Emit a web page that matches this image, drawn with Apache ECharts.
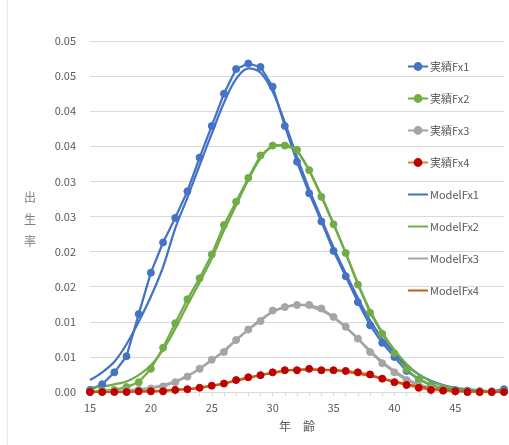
<!DOCTYPE html>
<html><head><meta charset="utf-8">
<script src="https://cdn.jsdelivr.net/npm/echarts@6/dist/echarts.min.js"></script>
<style>html,body{margin:0;padding:0;background:#fff}#c{width:509px;height:445px}</style>
</head><body><div id="c"></div>
<script>
const ages = [15,16,17,18,19,20,21,22,23,24,25,26,27,28,29,30,31,32,33,34,35,36,37,38,39,40,41,42,43,44,45,46,47,48,49];
const yTickLabels = ['0.00','0.01','0.01','0.02','0.02','0.03','0.03','0.04','0.04','0.05','0.05'];
const seriesNames = ['実績Fx1','実績Fx2','実績Fx3','実績Fx4','ModelFx1','ModelFx2','ModelFx3','ModelFx4'];
const fx1 = [0.0003,0.0011,0.0028,0.0051,0.0111,0.0170,0.0213,0.0248,0.0286,0.0334,0.0379,0.0425,0.0460,0.0468,0.0463,0.0435,0.0379,0.0328,0.0283,0.0243,0.0201,0.0165,0.0128,0.0095,0.0070,0.0050,0.0030,0.0018,0.0010,0.0005,0.0003,0.0002,0.0001,0.0001,0.0004];
const fx2 = [0.0001,0.0002,0.0003,0.0007,0.0014,0.0033,0.0063,0.0098,0.0132,0.0162,0.0196,0.0238,0.0271,0.0305,0.0337,0.0351,0.0351,0.0345,0.0316,0.0278,0.0239,0.0198,0.0153,0.0113,0.0083,0.0055,0.0032,0.0018,0.0010,0.0005,0.0002,0.0001,0.0001,0.0000,0.0001];
const fx3 = [0,0,0.0001,0.0002,0.0003,0.0005,0.0008,0.0014,0.0022,0.0033,0.0046,0.0057,0.0074,0.0089,0.0101,0.0116,0.0121,0.0124,0.0124,0.0119,0.0107,0.0093,0.0076,0.0057,0.0041,0.0028,0.0017,0.0009,0.0005,0.0002,0.0001,0,0,0,0];
const fx4 = [0,0,0,0,0.0001,0.0001,0.0001,0.0003,0.0004,0.0006,0.0009,0.0012,0.0017,0.0021,0.0024,0.0028,0.0031,0.0031,0.0033,0.0031,0.0031,0.0030,0.0028,0.0025,0.0019,0.0014,0.0010,0.0006,0.0003,0.0002,0.0001,0,0,0,0];
const m1 = [0.0017,0.0028,0.0043,0.0068,0.0100,0.0136,0.0178,0.0233,0.0277,0.0323,0.0368,0.0412,0.0446,0.0461,0.0455,0.0428,0.0384,0.0335,0.0289,0.0247,0.0206,0.0169,0.0134,0.0102,0.0076,0.0055,0.0038,0.0025,0.0016,0.0010,0.0006,0.0004,0.0002,0.0001,0.0001];
const m2 = [0.0006,0.0008,0.0011,0.0015,0.0024,0.0038,0.0060,0.0090,0.0124,0.0156,0.0190,0.0230,0.0266,0.0302,0.0333,0.0350,0.0352,0.0343,0.0316,0.0280,0.0240,0.0198,0.0155,0.0116,0.0085,0.0060,0.0040,0.0025,0.0015,0.0009,0.0005,0.0003,0.0002,0.0001,0.0001];
const m3 = [0,0.0001,0.0001,0.0002,0.0004,0.0006,0.0010,0.0015,0.0023,0.0033,0.0045,0.0059,0.0074,0.0089,0.0103,0.0114,0.0121,0.0124,0.0122,0.0116,0.0106,0.0092,0.0076,0.0059,0.0043,0.0030,0.0019,0.0011,0.0006,0.0003,0.0002,0.0001,0,0,0];
const m4 = [0,0,0,0,0.0001,0.0001,0.0002,0.0003,0.0004,0.0006,0.0009,0.0012,0.0016,0.0020,0.0024,0.0027,0.0030,0.0032,0.0032,0.0032,0.0031,0.0029,0.0026,0.0023,0.0019,0.0015,0.0011,0.0008,0.0005,0.0003,0.0002,0.0001,0.0001,0,0];

const font = "'Noto Sans CJK JP', 'Noto Sans', sans-serif";
const txt = '#595959';
function markerSeries(name, data, lineColor, markColor) {
  return { name, type: 'line', data, symbol: 'circle', symbolSize: 7, showSymbol: true,
    lineStyle: { color: lineColor, width: 2.25 }, itemStyle: { color: markColor, borderColor: markColor },
    emphasis: { disabled: true }, animation: false };
}
function modelSeries(name, data, color) {
  return { name, type: 'line', data, symbol: 'none', smooth: 0.35,
    lineStyle: { color, width: 2.25 }, itemStyle: { color },
    emphasis: { disabled: true }, animation: false };
}
const legendData = seriesNames.map((n, i) => i < 4 ? { name: n } : { name: n, itemStyle: { opacity: 0 } });
const chart = echarts.init(document.getElementById('c'), null, { renderer: 'canvas' });
chart.setOption({
  animation: false,
  backgroundColor: '#fff',
  textStyle: { fontFamily: font },
  grid: { left: 90, right: 5, top: 41, bottom: 53, containLabel: false },
  xAxis: {
    type: 'category', data: ages, boundaryGap: false,
    name: '年　齢', nameLocation: 'middle', nameGap: 28,
    nameTextStyle: { color: txt, fontSize: 12, fontFamily: font },
    axisLine: { lineStyle: { color: '#D9D9D9', width: 1 } },
    axisTick: { show: true, interval: 0, length: 4, lineStyle: { color: '#D9D9D9' } },
    axisLabel: { interval: 4, color: txt, fontSize: 11, margin: 10, fontFamily: font },
    splitLine: { show: false }
  },
  yAxis: {
    type: 'value', min: 0, max: 0.05, interval: 0.005,
    axisLine: { show: false }, axisTick: { show: false },
    axisLabel: { color: txt, fontSize: 11, margin: 14, fontFamily: font,
      formatter: v => yTickLabels[Math.round(v / 0.005)] },
    splitLine: { lineStyle: { color: '#D9D9D9', width: 1 } }
  },
  legend: {
    orient: 'vertical', left: 402, top: 56, itemWidth: 20, itemHeight: 11, itemGap: 21,
    data: legendData,
    textStyle: { color: txt, fontSize: 11, fontFamily: font, padding: [0, 0, 0, -3] }
  },
  graphic: [
    { type: 'text', left: 24, top: 186, style: { text: '出\n生\n率', fill: '#7F7F7F', font: '12px ' + font, lineHeight: 22 } },
    { type: 'line', shape: { x1: 7.5, y1: 0, x2: 7.5, y2: 445 }, style: { stroke: '#E6E6E6', lineWidth: 1 } }
  ],
  series: [
    markerSeries(seriesNames[0], fx1, '#4472C4', '#4472C4'),
    markerSeries(seriesNames[1], fx2, '#70AD47', '#70AD47'),
    markerSeries(seriesNames[2], fx3, '#A5A5A5', '#A5A5A5'),
    markerSeries(seriesNames[3], fx4, '#ED7D31', '#C00000'),
    modelSeries(seriesNames[4], m1, '#4472C4'),
    modelSeries(seriesNames[5], m2, '#70AD47'),
    modelSeries(seriesNames[6], m3, '#A5A5A5'),
    modelSeries(seriesNames[7], m4, '#C55A11')
  ]
});
</script></body></html>
